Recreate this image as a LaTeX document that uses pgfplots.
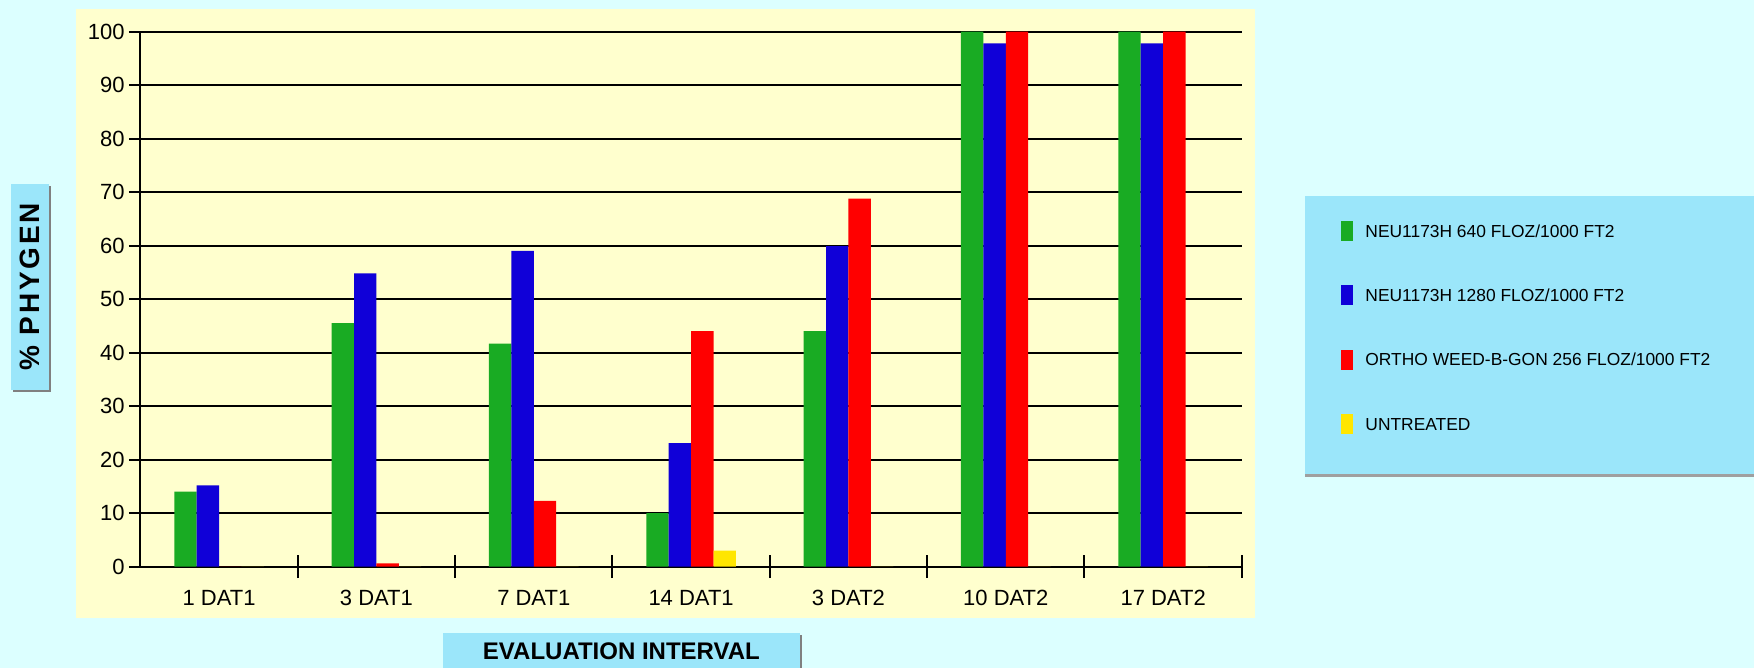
\documentclass[border=0pt]{standalone}
\usepackage{fontspec}
\setmainfont{Liberation Sans}
\newfontfamily\lblfont[LetterSpace=10]{Liberation Sans Bold}
\usepackage{graphicx}
\usepackage{pgfplots}
\pgfplotsset{compat=1.18}
\usetikzlibrary{shadows}
\definecolor{bgcyan}{RGB}{220,255,255}
\definecolor{cream}{RGB}{255,255,206}
\definecolor{boxblue}{RGB}{155,230,250}
\definecolor{cgreen}{RGB}{25,171,35}
\definecolor{cblue}{RGB}{16,0,216}
\definecolor{cred}{RGB}{255,0,0}
\definecolor{cyellow}{RGB}{255,230,0}
\begin{document}
\begin{tikzpicture}
\path[use as bounding box, fill=bgcyan] (0,0) rectangle (877pt,334pt);
\fill[cream] (37.85pt,25pt) rectangle (627.25pt,329.5pt);
\fill[gray!75] (652.5pt,95.5pt) rectangle (880pt,97pt);
\fill[boxblue] (652.5pt,97pt) rectangle (880pt,236pt);
\begin{axis}[
  at={(70.2pt,50.7pt)}, anchor=south west, scale only axis,
  width=550.7pt, height=267.5pt,
  xmin=-0.5, xmax=6.5, ymin=0, ymax=100,
  ybar=0pt, bar width=11.2pt,
  axis lines*=left, axis line style={black, line width=1pt},
  ymajorgrids, grid style={black, line width=1pt},
  ytick={0,10,...,100},
  xtick={0.5,1.5,...,6.5}, xticklabels={},
  extra x ticks={0,1,2,3,4,5,6},
  extra x tick labels={1 DAT1,3 DAT1,7 DAT1,14 DAT1,3 DAT2,10 DAT2,17 DAT2},
  extra x tick style={major tick length=0pt, grid=none},
  tick align=center, major tick length=11.5pt,
  tick style={black, line width=1pt},
  tick label style={font=\fontsize{11}{13}\selectfont, inner sep=0pt},
  /pgf/number format/assume math mode=true,
  yticklabel style={anchor=east, xshift=-2pt},
  xticklabel style={anchor=base, yshift=-19.2pt},
  ylabel={\rotatebox{90}{\% PHYGEN}},
  ylabel style={at={(axis description cs:-0.1002,0.5226)}, anchor=center, rotate=-90,
    fill=boxblue, minimum width=19pt, minimum height=103pt, inner sep=0pt,
    drop shadow={shadow xshift=1.2pt, shadow yshift=-1.2pt, fill=gray, opacity=1},
    font=\lblfont\fontsize{14}{16}\selectfont},
  xlabel={EVALUATION INTERVAL},
  xlabel style={at={(axis description cs:0.4367,-0.1578)}, anchor=center,
    fill=boxblue, minimum width=178.5pt, minimum height=18.3pt, inner sep=0pt,
    drop shadow={shadow xshift=1.2pt, shadow yshift=-1.2pt, fill=gray, opacity=1},
    font=\bfseries\fontsize{12}{14}\selectfont},
  legend style={at={(1.0901,0.6465)}, anchor=north west, draw=none, fill=none,
    inner sep=0pt, row sep=22.15pt, column sep=6.15pt,
    font=\fontsize{8.7}{10}\selectfont,
    nodes={inner sep=0pt, text height=6.2pt, text depth=0pt, anchor=west}},
  legend cell align=left,
  legend image code/.code={\fill[#1] (0pt,-5pt) rectangle (5.85pt,5pt);},
]
\addplot[fill=cgreen, draw=none] coordinates {(0,14) (1,45.5) (2,41.7) (3,10) (4,44) (5,100) (6,100)};
\addplot[fill=cblue, draw=none] coordinates {(0,15.2) (1,54.8) (2,59) (3,23.1) (4,59.9) (5,97.8) (6,97.8)};
\addplot[fill=cred, draw=none] coordinates {(0,0) (1,0.6) (2,12.3) (3,44) (4,68.8) (5,100) (6,100)};
\addplot[fill=cyellow, draw=none] coordinates {(0,0) (1,0) (2,0) (3,3) (4,0) (5,0) (6,0)};
\legend{NEU1173H 640 FLOZ/1000 FT2, NEU1173H 1280 FLOZ/1000 FT2, ORTHO WEED-B-GON 256 FLOZ/1000 FT2, UNTREATED}
\end{axis}
\end{tikzpicture}
\end{document}
